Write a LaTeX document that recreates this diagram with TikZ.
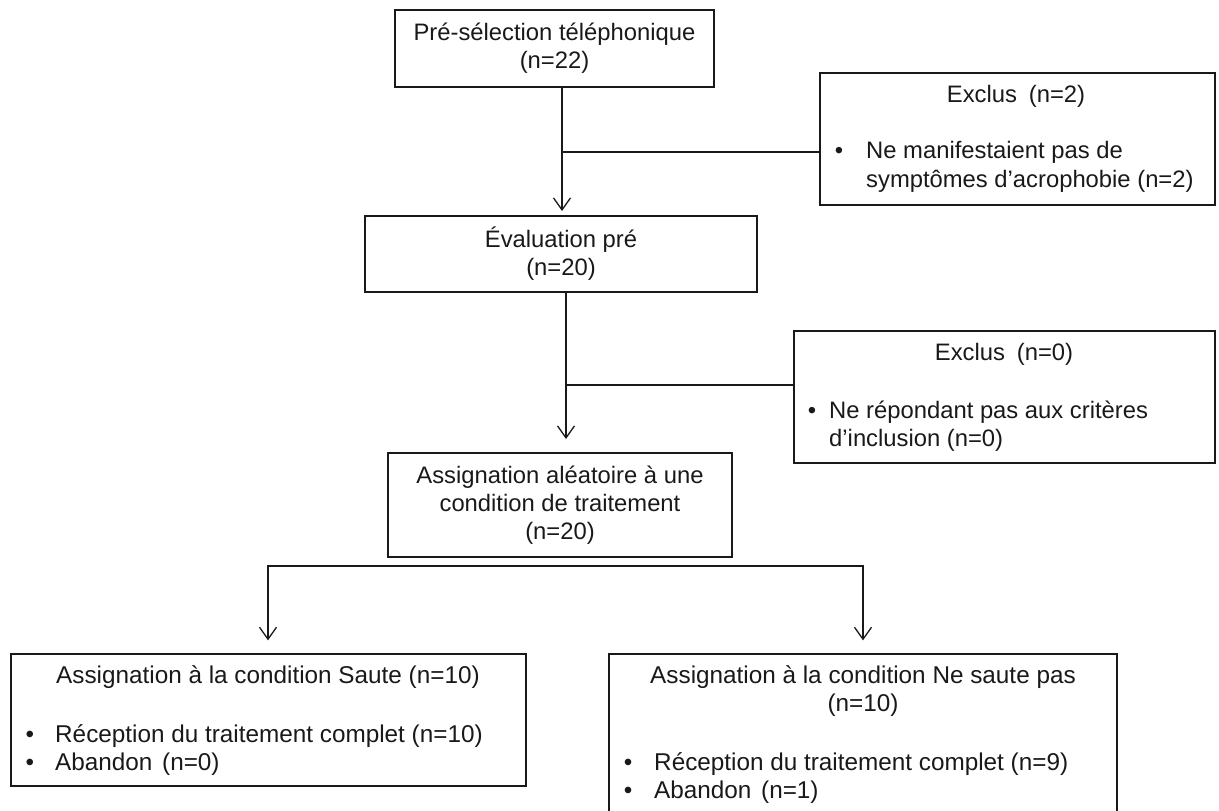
\documentclass[tikz,border=0pt]{standalone}
\usepackage{fontspec}
\setmainfont{Liberation Sans}
\usetikzlibrary{arrows.meta}
\tikzset{
  box/.style={draw=black!90, line width=1.3pt, inner sep=0pt, align=center,
    text=black!90, font=\fontsize{23.8}{28}\selectfont},
  txt/.style={inner sep=0pt, text=black!90, font=\fontsize{23.8}{28}\selectfont},
  btxt/.style={inner sep=0pt, text=black!90, font=\fontsize{24.3}{28}\selectfont},
  conn/.style={draw=black!90, line width=1.3pt},
  arr/.style={conn, -{Straight Barb[length=12pt,width=17pt,line width=1.3pt]}},
  arrtwo/.style={conn, {Straight Barb[length=12pt,width=17pt,line width=1.3pt]}-{Straight Barb[length=12pt,width=17pt,line width=1.3pt]}}
}
\begin{document}
\begin{tikzpicture}[x=1pt,y=-1pt]
\useasboundingbox (0,0) rectangle (1219,811);
\clip (0,0) rectangle (1219,811);

% boxes
\node[box, minimum width=319pt, minimum height=77pt] (pre) at (554.5,48.5)
  {Pré-sélection téléphonique\\(n=22)};
\node[box, minimum width=395pt, minimum height=132pt] (ex1) at (1017.5,139) {};
\node[box, minimum width=392pt, minimum height=76pt] (eval) at (561,254)
  {Évaluation pré\\(n=20)};
\node[box, minimum width=421pt, minimum height=132pt] (ex2) at (1004.5,397) {};
\node[box, minimum width=344pt, minimum height=104pt] (asg) at (560,505)
  {Assignation aléatoire à une\\condition de traitement\\(n=20)};
\node[box, minimum width=515pt, minimum height=132pt] (left) at (268.5,720) {};
\node[box, minimum width=508pt, minimum height=196pt] (right) at (863,752) {};

% texts of Exclus 1
\node[txt, anchor=base] (ex1t) at (1016,102) {Exclus\hspace{0.5em}(n=2)};
\node[txt, anchor=base] (ex1d) at (839,158) {•};
\node[txt, anchor=base west] (ex1a) at (866,158) {Ne manifestaient pas de};
\node[txt, anchor=base west] (ex1b) at (866,187) {symptômes d’acrophobie (n=2)};

% texts of Exclus 2
\node[txt, anchor=base] (ex2t) at (1004,360) {Exclus\hspace{0.5em}(n=0)};
\node[txt, anchor=base] (ex2d) at (812,418) {•};
\node[txt, anchor=base west] (ex2a) at (829,418) {Ne répondant pas aux critères};
\node[txt, anchor=base west] (ex2b) at (829,446) {d’inclusion (n=0)};

% texts of left box
\node[btxt, anchor=base west] (lt) at (56,683) {Assignation à la condition Saute (n=10)};
\node[btxt, anchor=base] (ld1) at (30,742) {•};
\node[btxt, anchor=base west] (la) at (55,742) {Réception du traitement complet (n=10)};
\node[btxt, anchor=base] (ld2) at (30,770) {•};
\node[btxt, anchor=base west] (lb) at (55,770) {Abandon\hspace{0.4em}(n=0)};

% texts of right box
\node[btxt, anchor=base] (rt1) at (863,683) {Assignation à la condition Ne saute pas};
\node[btxt, anchor=base] (rt2) at (863,711) {(n=10)};
\node[btxt, anchor=base] (rd1) at (628,770) {•};
\node[btxt, anchor=base west] (ra) at (654,770) {Réception du traitement complet (n=9)};
\node[btxt, anchor=base] (rd2) at (628,798) {•};
\node[btxt, anchor=base west] (rb) at (654,798) {Abandon\hspace{0.4em}(n=1)};

% connectors
\coordinate (a1) at (562,211);
\draw[arr] (pre.south -| a1) -- (a1);
\coordinate (j1) at (562,152);
\draw[conn] (j1) -- (j1 -| ex1.west);

\coordinate (a2) at (566,439);
\draw[arr] (eval.south -| a2) -- (a2);
\coordinate (j2) at (566,385);
\draw[conn] (j2) -- (j2 -| ex2.west);

\coordinate (hl) at (268,566);
\coordinate (hr) at (863,566);
\draw[arrtwo, shorten <=13pt, shorten >=13pt]
  (left.north -| hl) -- (hl) -- (hr) -- (right.north -| hr);
\end{tikzpicture}
\end{document}
